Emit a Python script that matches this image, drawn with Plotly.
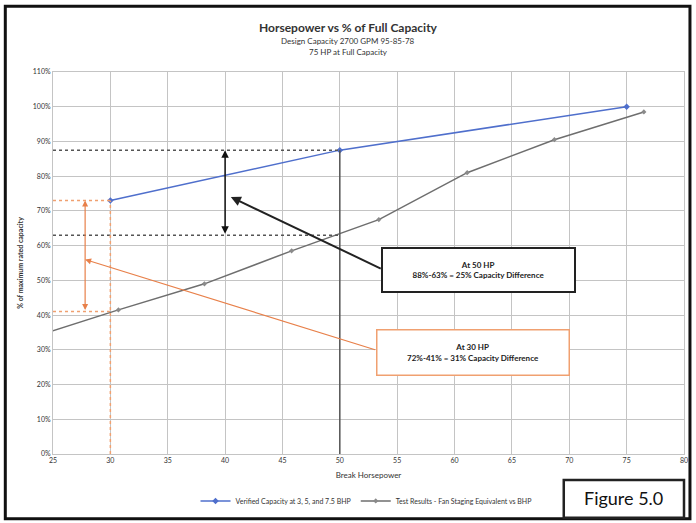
import plotly.graph_objects as go

# verified capacity (blue)
verified_hp = [30, 50, 75]
verified_pct = [73, 87.5, 100]

# test results (gray)
test_hp = [23.1, 30.7, 38.2, 45.8, 53.4, 61.1, 68.7, 76.5]
test_pct = [33.5, 41.5, 49, 58.5, 67.5, 81, 90.5, 98.5]

# annotation reference values
hp50, hi50, lo50 = 50, 87.5, 63
hp30, hi30, lo30 = 30, 73, 41
arrow50_x = 40
arrow30_x = 27.8

box50_text = "<b>At 50 HP<br>88%-63% = 25% Capacity Difference</b>"
box30_text = "<b>At 30 HP<br>72%-41% = 31% Capacity Difference</b>"

FONT = "Lato"
GRID = "#c4c4c4"
ORANGE = "#f0a070"
DARK = "#555555"

W, H = 696, 523
L, R, T, B = 53, 8, 72, 68
PW, PH = W - L - R, H - T - B

def px(x):
    return (x - L) / PW

def py(y):
    return (H - B - y) / PH

fig = go.Figure()

fig.add_trace(go.Scatter(x=verified_hp, y=verified_pct, mode="lines+markers",
                         name="Verified Capacity at 3, 5, and 7.5 BHP",
                         line=dict(color="#4f6fcc", width=1.5),
                         marker=dict(color="#4f6fcc", size=5, symbol="diamond")))
fig.add_trace(go.Scatter(x=test_hp, y=test_pct, mode="lines+markers",
                         name="Test Results - Fan Staging Equivalent vs BHP",
                         line=dict(color="#6e6e6e", width=1.5),
                         marker=dict(color="#8a8a8a", size=4, symbol="diamond")))

shapes = [
    # dark reference lines at 50 HP
    dict(type="line", xref="x", yref="y", x0=25, x1=hp50, y0=hi50, y1=hi50,
         line=dict(color=DARK, width=1.5, dash="dot")),
    dict(type="line", xref="x", yref="y", x0=25, x1=hp50, y0=lo50, y1=lo50,
         line=dict(color=DARK, width=1.5, dash="dot")),
    dict(type="line", xref="x", yref="y", x0=hp50, x1=hp50, y0=0, y1=hi50,
         line=dict(color=DARK, width=1.5)),
    # orange reference lines at 30 HP
    dict(type="line", xref="x", yref="y", x0=hp30, x1=hp30, y0=0, y1=hi30,
         line=dict(color=ORANGE, width=1.5, dash="dot")),
    dict(type="line", xref="x", yref="y", x0=25, x1=hp30, y0=hi30, y1=hi30,
         line=dict(color=ORANGE, width=1.5, dash="dot")),
    dict(type="line", xref="x", yref="y", x0=25, x1=hp30, y0=lo30, y1=lo30,
         line=dict(color=ORANGE, width=1.5, dash="dot")),
    # outer frame
    dict(type="rect", xref="paper", yref="paper", x0=px(5), x1=px(694), y0=py(520), y1=py(6),
         line=dict(color="#111111", width=3)),
    # figure label box
    dict(type="rect", xref="paper", yref="paper", x0=px(567), x1=px(688), y0=py(519), y1=py(481),
         line=dict(color="#222222", width=2.5), fillcolor="white"),
]

mid = dict(xanchor="center", yanchor="middle", showarrow=False)

annotations = [
    dict(text="<b>Horsepower vs % of Full Capacity</b>", xref="paper", yref="paper",
         x=px(350), y=py(27), font=dict(size=12, color="#333333"), **mid),
    dict(text="Design Capacity 2700 GPM 95-85-78", xref="paper", yref="paper",
         x=px(350), y=py(41), font=dict(size=8, color="#333333"), **mid),
    dict(text="75 HP at Full Capacity", xref="paper", yref="paper",
         x=px(350), y=py(52), font=dict(size=8, color="#333333"), **mid),
    dict(text="Figure 5.0", xref="paper", yref="paper", x=px(627), y=py(499),
         font=dict(size=18, color="#111111"), **mid),
    # double arrows
    dict(x=arrow50_x, y=hi50, ax=arrow50_x, ay=lo50, xref="x", yref="y", axref="x", ayref="y",
         text="", showarrow=True, arrowhead=2, startarrowhead=2, arrowside="end+start",
         arrowwidth=1.5, arrowcolor="#111111"),
    dict(x=arrow30_x, y=hi30, ax=arrow30_x, ay=lo30, xref="x", yref="y", axref="x", ayref="y",
         text="", showarrow=True, arrowhead=2, startarrowhead=2, arrowside="end+start",
         arrowwidth=1.2, arrowcolor="#e8804a"),
    # pointer arrows
    dict(x=40.5, y=74, ax=53.7, ay=53.2, xref="x", yref="y", axref="x", ayref="y",
         text="", showarrow=True, arrowhead=2, arrowwidth=2, arrowcolor="#222222"),
    dict(x=27.8, y=56, ax=53.2, ay=29.9, xref="x", yref="y", axref="x", ayref="y",
         text="", showarrow=True, arrowhead=2, arrowwidth=1.2, arrowcolor="#e8804a"),
    # text boxes
    dict(text=box50_text, xref="x", yref="y", x=62.1, y=53.1,
         font=dict(size=8, color="#222222"), bgcolor="white", bordercolor="#222222",
         borderwidth=2, borderpad=9, width=173, height=24, **mid),
    dict(text=box30_text, xref="x", yref="y", x=61.6, y=29.1,
         font=dict(size=8, color="#222222"), bgcolor="white", bordercolor=ORANGE,
         borderwidth=1.5, borderpad=9, width=173, height=26, **mid),
]

fig.update_layout(
    width=W, height=H,
    margin=dict(l=L, r=R, t=T, b=B),
    paper_bgcolor="white", plot_bgcolor="white",
    font=dict(family=FONT, size=7, color="#333333"),
    showlegend=True,
    legend=dict(orientation="h", x=px(368), y=py(502), xanchor="center", yanchor="middle",
                font=dict(size=7), bgcolor="rgba(0,0,0,0)"),
    shapes=shapes,
    annotations=annotations,
)
fig.update_xaxes(range=[25, 80], dtick=5, tick0=25, showgrid=True, gridcolor=GRID,
                 linecolor=GRID, mirror=True, zeroline=False, ticks="",
                 title=dict(text="Break Horsepower", font=dict(size=8), standoff=8))
fig.update_yaxes(range=[0, 110], dtick=10, ticksuffix="%", showgrid=True, gridcolor=GRID,
                 linecolor=GRID, mirror=True, zeroline=False, ticks="",
                 title=dict(text="<b>% of maximum rated capacity</b>", font=dict(size=7), standoff=8))

# drop the page's default body margin so the figure sits at the window origin
fig.write_html("out.html", config={"displayModeBar": False},
               post_script="document.body.style.margin='0px';")
